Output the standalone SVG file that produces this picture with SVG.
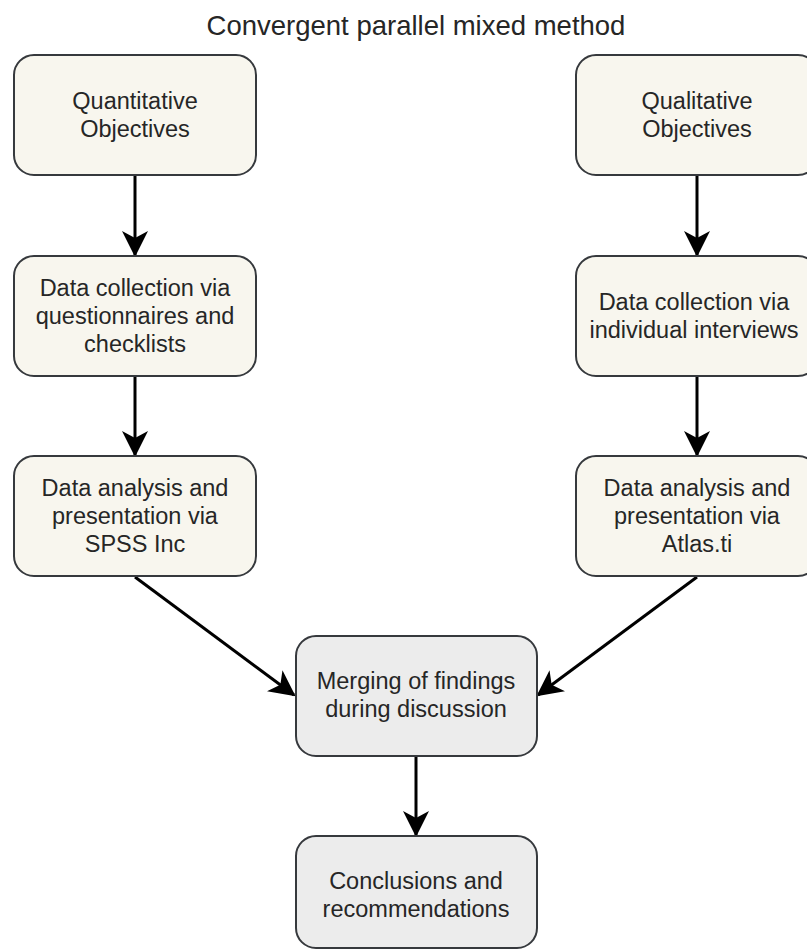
<svg xmlns="http://www.w3.org/2000/svg" width="807" height="951" viewBox="0 0 807 951">
  <style>
    .box { stroke: #36393d; stroke-width: 2; }
    .warm { fill: #f8f6ee; }
    .grey { fill: #ececec; }
    .label { font-family: "Liberation Sans", Arial, sans-serif; font-size: 23.5px; fill: #262626; text-anchor: middle; }
    .title { font-family: "Liberation Sans", Arial, sans-serif; font-size: 27.5px; fill: #262626; text-anchor: middle; }
    .edge { stroke: #000; stroke-width: 3; fill: none; marker-end: url(#arrow); }
  </style>
  <defs>
    <marker id="arrow" viewBox="0 0 26 26" refX="24" refY="13" markerWidth="26" markerHeight="26" markerUnits="userSpaceOnUse" orient="auto">
      <path d="M0,0 L26,13 L0,26 L7,13 Z" fill="#000"/>
    </marker>
  </defs>

  <rect width="807" height="951" fill="#ffffff"/>

  <text class="title" x="416" y="35">Convergent parallel mixed method</text>

  <g id="connectors">
    <line class="edge" x1="135" y1="176" x2="135" y2="255"/>
    <line class="edge" x1="135" y1="377" x2="135" y2="455"/>
    <line class="edge" x1="697" y1="176" x2="697" y2="255"/>
    <line class="edge" x1="697" y1="377" x2="697" y2="455"/>
    <line class="edge" x1="135" y1="577" x2="294" y2="695"/>
    <line class="edge" x1="697" y1="577" x2="538" y2="695"/>
    <line class="edge" x1="416" y1="757" x2="416" y2="835"/>
  </g>

  <g id="quant-objectives">
    <rect class="box warm" x="14" y="55" width="242" height="120" rx="20"/>
    <text class="label" x="135"><tspan x="135" y="109">Quantitative</tspan><tspan x="135" y="137">Objectives</tspan></text>
  </g>

  <g id="quant-collection">
    <rect class="box warm" x="14" y="256" width="242" height="120" rx="20"/>
    <text class="label"><tspan x="135" y="296">Data collection via</tspan><tspan x="135" y="324">questionnaires and</tspan><tspan x="135" y="352">checklists</tspan></text>
  </g>

  <g id="quant-analysis">
    <rect class="box warm" x="14" y="456" width="242" height="120" rx="20"/>
    <text class="label"><tspan x="135" y="496">Data analysis and</tspan><tspan x="135" y="524">presentation via</tspan><tspan x="135" y="552">SPSS Inc</tspan></text>
  </g>

  <g id="qual-objectives">
    <rect class="box warm" x="576" y="55" width="242" height="120" rx="20"/>
    <text class="label"><tspan x="697" y="109">Qualitative</tspan><tspan x="697" y="137">Objectives</tspan></text>
  </g>

  <g id="qual-collection">
    <rect class="box warm" x="576" y="256" width="242" height="120" rx="20"/>
    <text class="label"><tspan x="694" y="310">Data collection via</tspan><tspan x="694" y="338">individual interviews</tspan></text>
  </g>

  <g id="qual-analysis">
    <rect class="box warm" x="576" y="456" width="242" height="120" rx="20"/>
    <text class="label"><tspan x="697" y="496">Data analysis and</tspan><tspan x="697" y="524">presentation via</tspan><tspan x="697" y="552">Atlas.ti</tspan></text>
  </g>

  <g id="merging">
    <rect class="box grey" x="296" y="636" width="241" height="120" rx="20"/>
    <text class="label"><tspan x="416" y="689">Merging of findings</tspan><tspan x="416" y="717">during discussion</tspan></text>
  </g>

  <g id="conclusions">
    <rect class="box grey" x="296" y="836" width="241" height="112" rx="20"/>
    <text class="label"><tspan x="416" y="889">Conclusions and</tspan><tspan x="416" y="917">recommendations</tspan></text>
  </g>
</svg>
